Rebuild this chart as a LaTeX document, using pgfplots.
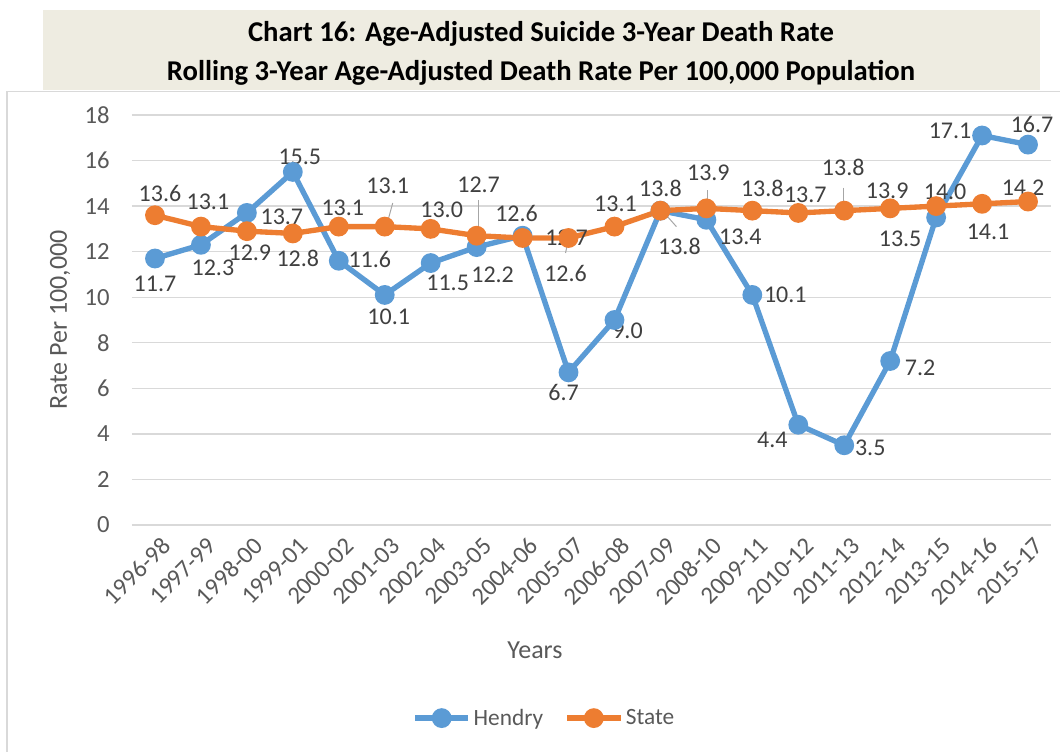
\documentclass[border=0pt]{standalone}
\usepackage{fontspec}
\setmainfont{Carlito}
\usepackage{pgfplots}
\pgfplotsset{compat=1.18}
\definecolor{hblue}{HTML}{5B9BD5}
\definecolor{sorange}{HTML}{ED7D31}
\definecolor{titlebg}{HTML}{EEECE1}
\definecolor{gridc}{HTML}{D9D9D9}
\definecolor{ticktext}{HTML}{595959}
\definecolor{labtext}{HTML}{404040}
\definecolor{leaderc}{HTML}{A6A6A6}

\pgfplotstableread{
x y
0 11.7
1 12.3
2 13.7
3 15.5
4 11.6
5 10.1
6 11.5
7 12.2
8 12.7
9 6.7
10 9.0
11 13.8
12 13.4
13 10.1
14 4.4
15 3.5
16 7.2
17 13.5
18 17.1
19 16.7
}\hendry
\pgfplotstableread{
x y
0 13.6
1 13.1
2 12.9
3 12.8
4 13.1
5 13.1
6 13.0
7 12.7
8 12.6
9 12.6
10 13.1
11 13.8
12 13.9
13 13.8
14 13.7
15 13.8
16 13.9
17 14.0
18 14.1
19 14.2
}\state

\newcommand{\lab}[5]{\node[font=\fontsize{18}{21}\selectfont, text=labtext, inner sep=0pt, anchor=center, xshift=#3*0.75pt, yshift=-(#4)*0.75pt] at (axis cs:#1,#2) {#5};}
\newcommand{\lead}[6]{\draw[leaderc, line width=0.75pt] ([xshift=#3*0.75pt, yshift=-(#4)*0.75pt]axis cs:#1,#2) -- ([xshift=#5*0.75pt, yshift=-(#6)*0.75pt]axis cs:#1,#2);}

\begin{document}
\begin{tikzpicture}[x=0.75pt,y=0.75pt]
\path[use as bounding box] (0,0) rectangle (1060,752);
\draw[gridc, line width=1pt] (7,0) -- (7,660.5) -- (1060,660.5);
\fill[titlebg] (43,662) rectangle (1040,742);
\node[font=\fontsize{21.5}{26}\selectfont\bfseries] at (541,718) {Chart 16: Age-Adjusted Suicide 3-Year Death Rate};
\node[font=\fontsize{21.5}{26}\selectfont\bfseries] at (541,679) {Rolling 3-Year Age-Adjusted Death Rate Per 100,000 Population};
\begin{axis}[
  at={(99pt,170.25pt)}, anchor=south west, scale only axis,
  width=689.25pt, height=307.5pt,
  xmin=-0.5, xmax=19.5, ymin=0, ymax=18,
  ytick={0,2,...,18},
  xtick={0,...,19},
  xticklabels={1996-98,1997-99,1998-00,1999-01,2000-02,2001-03,2002-04,2003-05,2004-06,2005-07,2006-08,2007-09,2008-10,2009-11,2010-12,2011-13,2012-14,2013-15,2014-16,2015-17},
  axis line style={draw=none},
  major tick length=0pt,
  ymajorgrids, grid style={gridc, line width=1pt},
  /pgf/number format/assume math mode=true,
  yticklabel style={font=\fontsize{18.5}{21}\selectfont, text=ticktext, anchor=east, inner sep=0pt, xshift=-16.5pt},
  xticklabel style={font=\fontsize{18.5}{21}\selectfont, text=ticktext, inner sep=0pt, anchor=north east, xshift=4pt, yshift=-8pt, rotate=45},
  xlabel={Years},
  ylabel={Rate Per 100,000},
  xlabel style={font=\fontsize{19.5}{22}\selectfont, text=ticktext, at={(axis description cs:0.4385,-0.305)}, anchor=center},
  ylabel style={font=\fontsize{19.5}{22}\selectfont, text=ticktext, at={(axis description cs:-0.0783,0.5)}, anchor=center},
  legend style={draw=none, fill=none, at={(axis description cs:0.449,-0.471)}, anchor=center, legend columns=2, font=\fontsize{17.5}{20}\selectfont, text=ticktext, /tikz/every even column/.append style={column sep=14pt}},
  legend image code/.code={\draw[#1, mark repeat=2, mark phase=2] plot coordinates {(0pt,0pt) (20pt,0pt) (40pt,0pt)};},
  clip=false,
]
\addplot[hblue, line width=4pt, mark=*, mark size=5.4pt, mark options={solid}] table[x=x,y=y] {\hendry};
\addlegendentry{Hendry}
\addplot[sorange, line width=4pt, mark=*, mark size=5.4pt, mark options={solid}] table[x=x,y=y] {\state};
\addlegendentry{State}
% leader lines
\lead{5}{13.1}{8}{-23.6}{2}{-1.6}
\lead{7}{12.7}{1.4}{-35.7}{1.4}{-0.7}
\lead{9}{12.6}{0}{1}{-3}{15}
\lead{11}{13.8}{0}{-2}{16}{16}
\lead{12}{13.9}{1.6}{-18}{1.6}{-1}
\lead{15}{13.8}{-1}{-23}{-1}{0}
% Hendry labels
\lab{0}{11.7}{0}{25}{11.7}
\lab{1}{12.3}{12}{23}{12.3}
\lab{2}{13.7}{35}{4}{13.7}
\lab{3}{15.5}{7}{-15}{15.5}
\lab{4}{11.6}{31}{-1}{11.6}
\lab{5}{10.1}{4}{22}{10.1}
\lab{6}{11.5}{17}{20}{11.5}
\lab{7}{12.2}{16}{28}{12.2}
\lab{8}{12.7}{44}{2}{12.7}
\lab{9}{6.7}{-5}{20}{6.7}
\lab{10}{9.0}{13}{11}{9.0}
\lab{11}{13.8}{19}{36}{13.8}
\lab{12}{13.4}{34}{17}{13.4}
\lab{13}{10.1}{33}{0}{10.1}
\lab{14}{4.4}{-26}{15}{4.4}
\lab{15}{3.5}{26}{3}{3.5}
\lab{16}{7.2}{30}{7}{7.2}
\lab{17}{13.5}{-36}{21}{13.5}
\lab{18}{17.1}{-32}{-5}{17.1}
\lab{19}{16.7}{4}{-20}{16.7}
% State labels
\lab{0}{13.6}{5}{-22}{13.6}
\lab{1}{13.1}{7}{-25}{13.1}
\lab{2}{12.9}{3}{22}{12.9}
\lab{3}{12.8}{5}{25}{12.8}
\lab{4}{13.1}{4}{-19}{13.1}
\lab{5}{13.1}{3}{-41}{13.1}
\lab{6}{13.0}{11}{-19}{13.0}
\lab{7}{12.7}{2}{-51}{12.7}
\lab{8}{12.6}{-6}{-25}{12.6}
\lab{9}{12.6}{-3}{35}{12.6}
\lab{10}{13.1}{1}{-23}{13.1}
\lab{11}{13.8}{0}{-22}{13.8}
\lab{12}{13.9}{2}{-36}{13.9}
\lab{13}{13.8}{10}{-22}{13.8}
\lab{14}{13.7}{7}{-18}{13.7}
\lab{15}{13.8}{-1}{-43}{13.8}
\lab{16}{13.9}{-3}{-18}{13.9}
\lab{17}{14.0}{9}{-14}{14.0}
\lab{18}{14.1}{6}{28}{14.1}
\lab{19}{14.2}{-5}{-14}{14.2}
\end{axis}
\end{tikzpicture}
\end{document}
